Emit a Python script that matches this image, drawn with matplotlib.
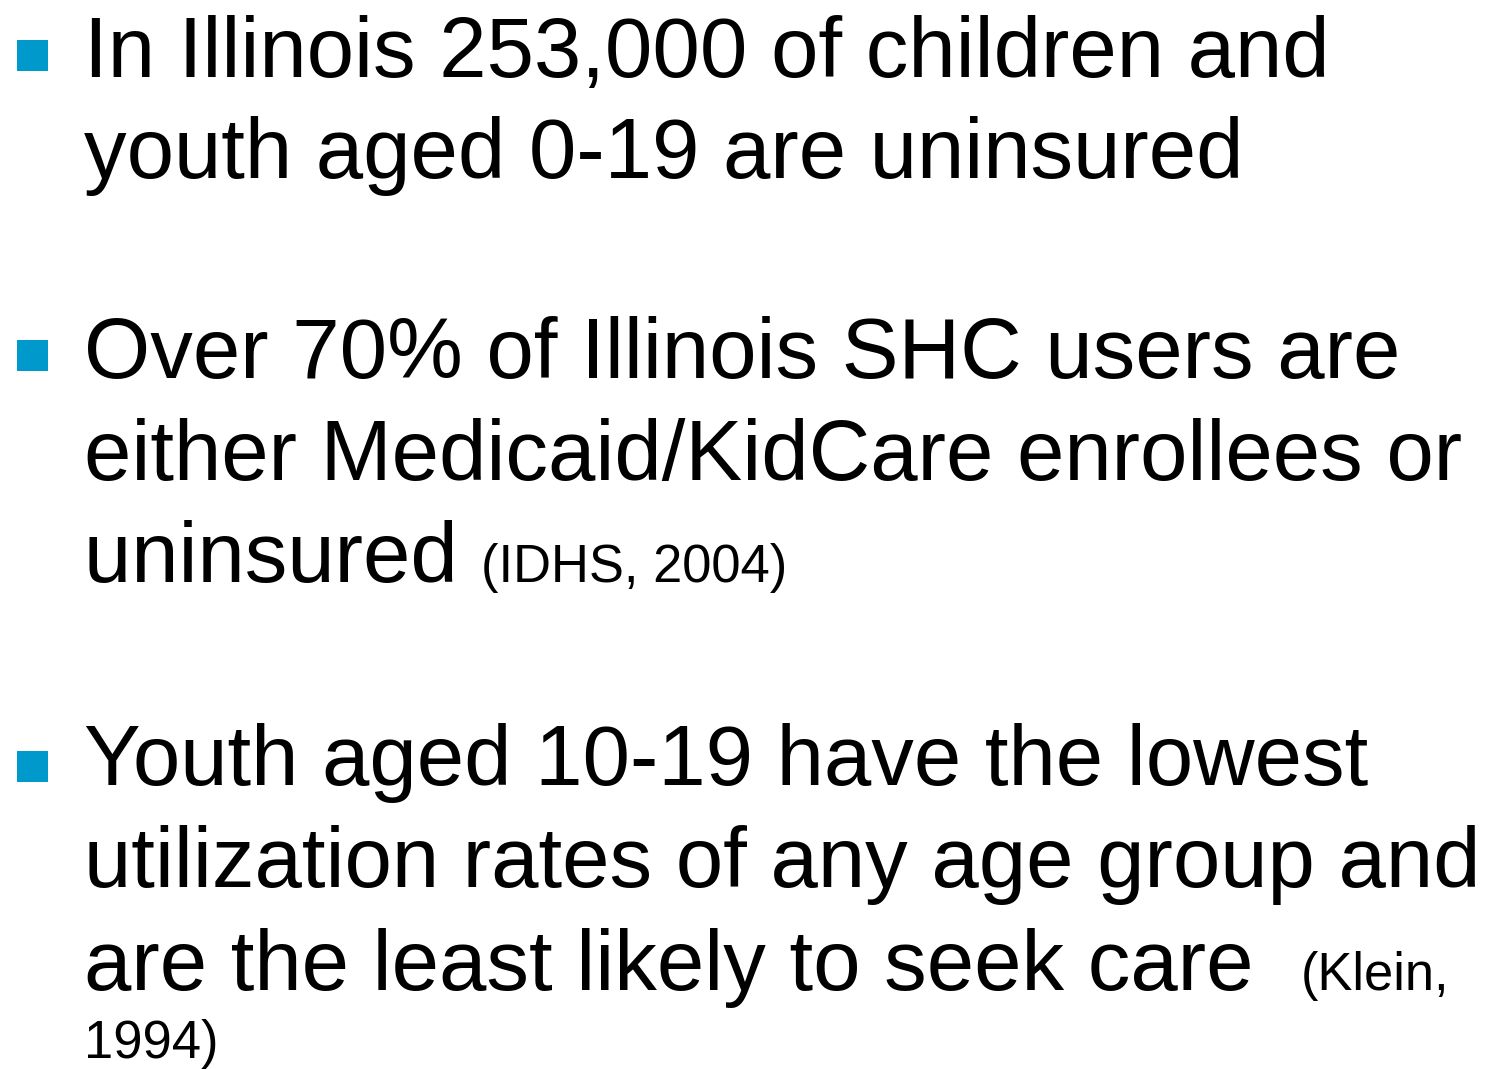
import matplotlib
matplotlib.use("Agg")
import matplotlib.pyplot as plt
from matplotlib.patches import Rectangle

W, H = 1489, 1069
BULLET_COLOR = "#0099CC"
FONT = ["Liberation Sans", "DejaVu Sans"]

# (text_main, text_small, baseline_y_px)
bullets = [
    [("In Illinois 253,000 of children and", None, 77),
     ("youth aged 0-19 are uninsured", None, 178)],
    [("Over 70% of Illinois SHC users are", None, 378),
     ("either Medicaid/KidCare enrollees or", None, 480),
     ("uninsured ", "(IDHS, 2004)", 582)],
    [("Youth aged 10-19 have the lowest", None, 785),
     ("utilization rates of any age group and", None, 887),
     ("are the least likely to seek care  ", "(Klein,", 990),
     ("", "1994)", 1058)],
]
bullet_tops = [40, 340, 751]

fig = plt.figure(figsize=(W / 100, H / 100), dpi=100)
fig.patch.set_facecolor("white")
fig.canvas.draw()
renderer = fig.canvas.get_renderer()

X0 = 84
BIG = 61.3
SMALL = 37.8

for group, top in zip(bullets, bullet_tops):
    fig.patches.append(Rectangle((17 / W, 1 - (top + 31) / H), 31 / W, 31 / H,
                                 transform=fig.transFigure, facecolor=BULLET_COLOR,
                                 edgecolor="none"))
    for main, small, base in group:
        y = 1 - base / H
        x = X0 / W
        if main:
            t = fig.text(x, y, main, fontsize=BIG, family=FONT, va="baseline",
                         ha="left", color="black")
            bb = t.get_window_extent(renderer=renderer)
            x = bb.x1 / W
        if small:
            fig.text(x, y, small, fontsize=SMALL, family=FONT, va="baseline",
                     ha="left", color="black")

fig.savefig("out.png", dpi=100, facecolor="white")
